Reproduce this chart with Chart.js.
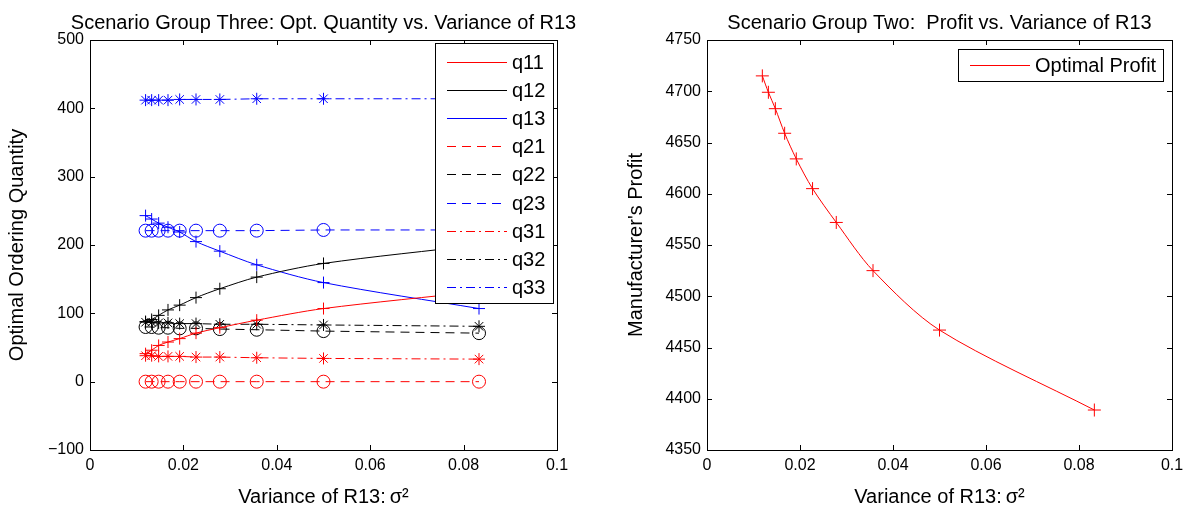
<!DOCTYPE html>
<html>
<head>
<meta charset="utf-8">
<script src="https://cdn.jsdelivr.net/npm/chart.js@4/dist/chart.umd.min.js"></script>
<style>
  body { margin: 0; background: #fff; }
  canvas { position: absolute; top: 0; }
</style>
</head>
<body>
<canvas id="chartQty" width="598" height="513" style="left:0px"></canvas>
<canvas id="chartProfit" width="599" height="513" style="left:598px"></canvas>
<script>
// variance of R13 (x values)
var variance = [0.0119, 0.0132, 0.0147, 0.0167, 0.0192, 0.0227, 0.0278, 0.0357, 0.05, 0.0833];

// optimal ordering quantities
var q11 = [41, 46, 53, 58, 63, 71, 79, 90, 107, 132];
var q12 = [88, 91, 97, 105, 112, 123, 136, 153, 173, 200];
var q13 = [243, 238, 232, 226, 219, 205, 191, 171, 145, 107];
var q21 = [0, 0, 0, 0, 0, 0, 0, 0, 0, 0];
var q22 = [80, 80, 79, 79, 78, 78, 77, 76, 74, 71];
var q23 = [221, 221, 221, 221, 221, 221, 221, 221, 222, 222];
var q31 = [38, 38, 37, 37, 37, 36, 36, 35, 34, 33];
var q32 = [87, 87, 86, 86, 85, 85, 84, 84, 83, 81];
var q33 = [412, 412, 412, 412, 413, 413, 413, 414, 414, 414];

// manufacturer's profit
var profit = [4715, 4699, 4683, 4659, 4634, 4605, 4572, 4525, 4467, 4389];

var xTicks = [0, 0.02, 0.04, 0.06, 0.08, 0.1];
var qtyTicks = [-100, 0, 100, 200, 300, 400, 500];
var profitTicks = [4350, 4400, 4450, 4500, 4550, 4600, 4650, 4700, 4750];

var FONT = "'Liberation Sans', Arial, sans-serif";
var DASHED = [9, 6];
var DASHDOT = [9, 4, 2, 4];

function pts(ys) {
  return variance.map(function (x, i) { return { x: x, y: ys[i] }; });
}

function serie(label, ys, color, dash, marker) {
  return {
    label: label,
    data: pts(ys),
    borderColor: color,
    backgroundColor: "rgba(0,0,0,0)",
    borderWidth: 1,
    borderDash: dash,
    pointStyle: marker,
    pointRadius: marker == "circle" ? 6.5 : 6,
    pointBorderColor: color,
    pointBackgroundColor: "rgba(0,0,0,0)",
    pointBorderWidth: 1,
    tension: dash.length ? 0 : 0.3,
  };
}

// box + inward ticks + title + legend (matlab look)
var framePlugin = {
  id: "frame",
  afterDraw: function (chart, args, opts) {
    var c = chart.ctx;
    var a = chart.chartArea;
    c.save();
    c.strokeStyle = "#000";
    c.lineWidth = 1;
    c.strokeRect(Math.round(a.left) + 0.5, Math.round(a.top) + 0.5, Math.round(a.right - a.left), Math.round(a.bottom - a.top));
    var xs = chart.scales.x, ys = chart.scales.y;
    c.beginPath();
    xTicks.forEach(function (t) {
      var px = Math.round(xs.getPixelForValue(t)) + 0.5;
      c.moveTo(px, a.bottom); c.lineTo(px, a.bottom - 5);
      c.moveTo(px, a.top); c.lineTo(px, a.top + 5);
    });
    opts.yTicks.forEach(function (t) {
      var py = Math.round(ys.getPixelForValue(t)) + 0.5;
      c.moveTo(a.left, py); c.lineTo(a.left + 5, py);
      c.moveTo(a.right, py); c.lineTo(a.right - 5, py);
    });
    c.stroke();

    c.fillStyle = "#000";
    c.font = "20px " + FONT;
    c.textAlign = "center";
    c.textBaseline = "alphabetic";
    c.fillText(opts.title, (a.left + a.right) / 2, 29);

    // legend
    var L = opts.legend;
    c.fillStyle = "#fff";
    c.fillRect(L.x, L.y, L.w, L.h);
    c.strokeRect(L.x + 0.5, L.y + 0.5, L.w, L.h);
    c.font = "20px " + FONT;
    c.textAlign = "left";
    c.textBaseline = "middle";
    L.items.forEach(function (it, i) {
      var y = Math.round(L.first + i * L.step) + 0.5;
      c.beginPath();
      c.strokeStyle = it.color;
      c.setLineDash(it.dash);
      c.moveTo(L.x + 12, y);
      c.lineTo(L.x + 72, y);
      c.stroke();
      c.setLineDash([]);
      c.fillStyle = "#000";
      c.fillText(it.label, L.x + 77, y + 1);
    });
    c.restore();
  },
};

function axes(yMin, yMax, yStep, yTitle, leftW, titlePad) {
  return {
    x: {
      type: "linear",
      min: 0,
      max: 0.1,
      afterBuildTicks: function (s) { s.ticks = xTicks.map(function (v) { return { value: v }; }); },
      grid: { display: false, drawTicks: false },
      border: { display: false },
      ticks: {
        color: "#000",
        font: { size: 16, family: FONT },
        padding: 6,
        maxRotation: 0,
        callback: function (v) { return String(+v.toFixed(2)); },
      },
      title: { display: true, text: "Variance of R13:\u2009\u03c3\u00b2", color: "#000", font: { size: 20, family: FONT }, padding: 4 },
      afterFit: function (s) { s.height = 63; },
    },
    y: {
      type: "linear",
      min: yMin,
      max: yMax,
      ticks: {
        stepSize: yStep,
        color: "#000",
        font: { size: 16, family: FONT },
        padding: 6,
        callback: function (v) { return String(v).replace("-", "\u2212"); },
      },
      grid: { display: false, drawTicks: false },
      border: { display: false },
      title: { display: true, text: yTitle, color: "#000", font: { size: 20, family: FONT }, padding: titlePad },
      afterFit: function (s) { s.width = leftW; },
    },
  };
}

var qtyLegendItems = [
  { label: "q11", color: "#ff0000", dash: [] },
  { label: "q12", color: "#000000", dash: [] },
  { label: "q13", color: "#0000ff", dash: [] },
  { label: "q21", color: "#ff0000", dash: DASHED },
  { label: "q22", color: "#000000", dash: DASHED },
  { label: "q23", color: "#0000ff", dash: DASHED },
  { label: "q31", color: "#ff0000", dash: DASHDOT },
  { label: "q32", color: "#000000", dash: DASHDOT },
  { label: "q33", color: "#0000ff", dash: DASHDOT },
];

new Chart(document.getElementById("chartQty"), {
  type: "line",
  data: {
    datasets: [
      serie("q11", q11, "#ff0000", [], "cross"),
      serie("q12", q12, "#000000", [], "cross"),
      serie("q13", q13, "#0000ff", [], "cross"),
      serie("q21", q21, "#ff0000", DASHED, "circle"),
      serie("q22", q22, "#000000", DASHED, "circle"),
      serie("q23", q23, "#0000ff", DASHED, "circle"),
      serie("q31", q31, "#ff0000", DASHDOT, "star"),
      serie("q32", q32, "#000000", DASHDOT, "star"),
      serie("q33", q33, "#0000ff", DASHDOT, "star"),
    ],
  },
  options: {
    responsive: false,
    animation: false,
    layout: { padding: { top: 40, right: 41, left: 0, bottom: 0 } },
    plugins: {
      legend: { display: false },
      tooltip: { enabled: false },
      frame: {
        title: "Scenario Group Three: Opt. Quantity vs. Variance of R13",
        yTicks: qtyTicks,
        legend: { x: 435, y: 43, w: 118, h: 260, first: 62, step: 28.1, items: qtyLegendItems },
      },
    },
    scales: axes(-100, 500, 100, "Optimal Ordering Quantity", 90, 5),
  },
  plugins: [framePlugin],
});

new Chart(document.getElementById("chartProfit"), {
  type: "line",
  data: {
    datasets: [
      {
        label: "Optimal Profit",
        data: pts(profit),
        borderColor: "#ff0000",
        backgroundColor: "rgba(0,0,0,0)",
        borderWidth: 1,
        pointStyle: "cross",
        pointRadius: 6.5,
        pointBorderColor: "#ff0000",
        pointBorderWidth: 1,
        tension: 0.3,
      },
    ],
  },
  options: {
    responsive: false,
    animation: false,
    layout: { padding: { top: 40, right: 25, left: 0, bottom: 0 } },
    plugins: {
      legend: { display: false },
      tooltip: { enabled: false },
      frame: {
        title: "Scenario Group Two:  Profit vs. Variance of R13",
        yTicks: profitTicks,
        legend: { x: 360, y: 49, w: 205, h: 32, first: 65, step: 0, items: [{ label: "Optimal Profit", color: "#ff0000", dash: [] }] },
      },
    },
    scales: axes(4350, 4750, 50, "Manufacturer's Profit", 109, 26),
  },
  plugins: [framePlugin],
});
</script>
</body>
</html>
